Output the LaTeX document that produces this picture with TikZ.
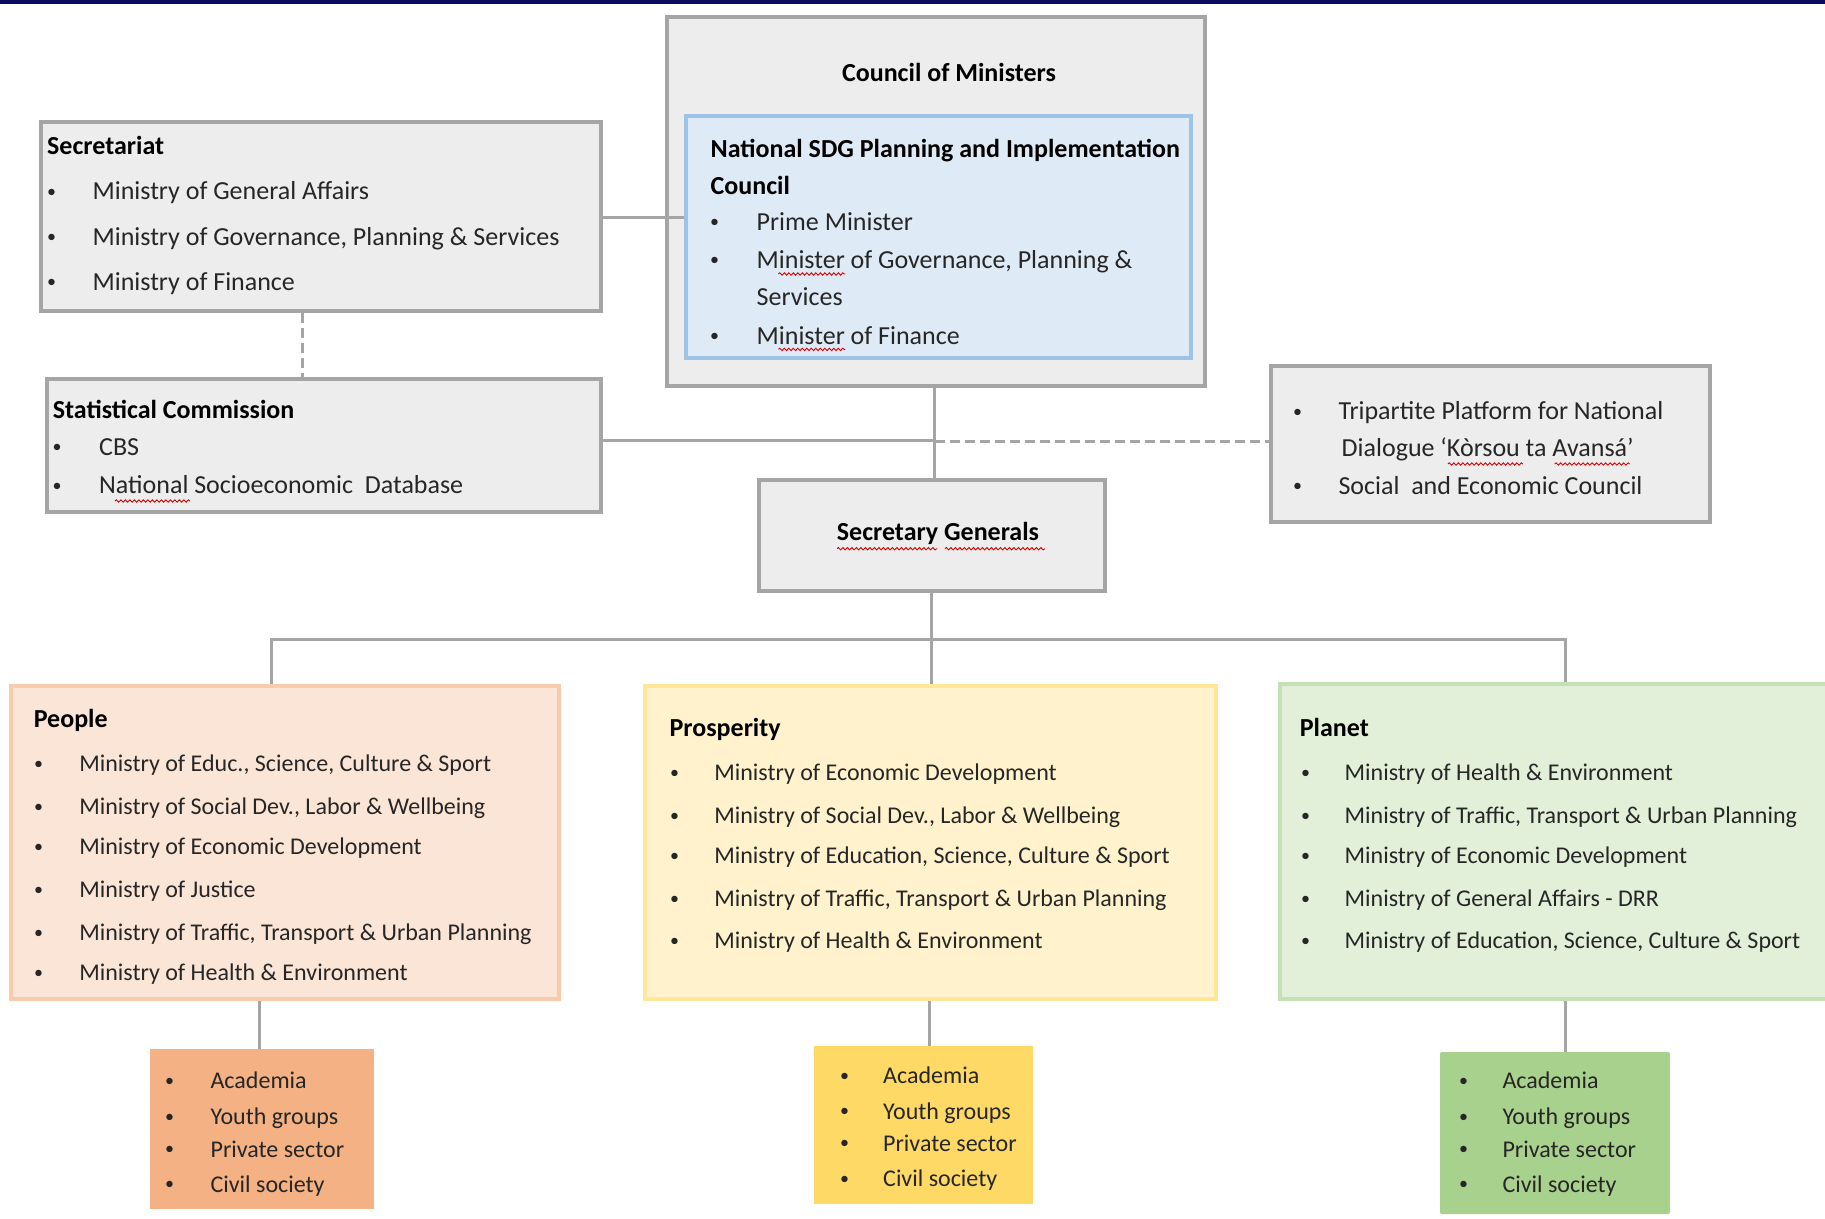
\documentclass[tikz,border=0pt]{standalone}
\usepackage{fontspec}
\setmainfont{Carlito}
\usetikzlibrary{fit,decorations.pathmorphing}
\definecolor{boxgray}{HTML}{EDEDED}
\definecolor{linegray}{HTML}{A5A5A5}
\definecolor{blfill}{HTML}{DEEBF7}
\definecolor{blline}{HTML}{9DC3E6}
\definecolor{pfill}{HTML}{FBE5D6}
\definecolor{pline}{HTML}{F8CBAD}
\definecolor{yfill}{HTML}{FFF2CC}
\definecolor{yline}{HTML}{FFE699}
\definecolor{gfill}{HTML}{E2F0D9}
\definecolor{gline}{HTML}{C5E0B4}
\definecolor{ofill}{HTML}{F4B183}
\definecolor{ydark}{HTML}{FFD966}
\definecolor{gdark}{HTML}{A9D18E}
\definecolor{navy}{HTML}{0B0B5E}
\definecolor{txtc}{HTML}{262626}
\newcommand\fsA{\fontsize{26}{31}\selectfont}
\newcommand\fsB{\fontsize{24}{29}\selectfont}
\newcommand\smbul{\raisebox{2.2pt}{\fontsize{18}{18}\selectfont •}}
\newcommand\bx[6]{\node[#2, fit={(#3,#4) (#5,#6)}] (#1) {};}
\newcommand\tln[4]{\node[ttl] (#1) at (#2,#3) {#4};}
\newcommand\bit[5]{\node[itm] (#1) at (#2,#4) {\makebox[\dimexpr #3pt-#2pt\relax][l]{\smbul}#5};}
\newcommand\bis[5]{\node[itms] (#1) at (#2,#4) {\makebox[\dimexpr #3pt-#2pt\relax][l]{\smbul}#5};}
\begin{document}
\begin{tikzpicture}[x=1pt,y=-1pt,
  gbox/.style={draw=linegray, fill=boxgray, line width=4pt, inner sep=0pt},
  bbox/.style={draw=blline, fill=blfill, line width=4pt, inner sep=0pt},
  pbox/.style={draw=pline, fill=pfill, line width=4pt, inner sep=0pt},
  ybox/.style={draw=yline, fill=yfill, line width=4pt, inner sep=0pt},
  grbox/.style={draw=gline, fill=gfill, line width=4pt, inner sep=0pt},
  sbox/.style={draw=none, inner sep=0pt},
  conn/.style={draw=linegray, line width=3pt},
  dconn/.style={conn, dash pattern=on 10pt off 5pt},
  ttl/.style={inner sep=0pt, anchor=base west, font=\fsA\bfseries, text=black},
  itm/.style={inner sep=0pt, anchor=base west, font=\fsA, text=txtc},
  itms/.style={inner sep=0pt, anchor=base west, font=\fsB, text=txtc},
  redwave/.style={draw=red!85!black, line width=0.9pt, decorate, decoration={snake, amplitude=1.2pt, segment length=4.5pt}}]
\useasboundingbox (0,0) rectangle (1825,1218);
\fill[white] (0,0) rectangle (1825,1218);
\fill[navy] (0,0) rectangle (1825,4);

% boxes
\bx{council}{gbox}{667}{17}{1205}{386}
\bx{nsdg}{bbox}{686}{116}{1191}{358}
\bx{sec}{gbox}{41}{122}{601}{311}
\bx{stat}{gbox}{47}{379}{601}{512}
\bx{tri}{gbox}{1271}{366}{1710}{522}
\bx{sg}{gbox}{759}{480}{1105}{591}
\bx{people}{pbox}{11}{686}{559}{999}
\bx{prosp}{ybox}{645}{686}{1216}{999}
\bx{planet}{grbox}{1280}{684}{1840}{999}
\bx{obox}{sbox,fill=ofill}{150}{1049}{374}{1209}
\bx{yb}{sbox,fill=ydark}{814}{1046}{1033}{1204}
\bx{gb}{sbox,fill=gdark,rounded corners=2pt}{1440}{1052}{1670}{1214}

% connectors
\coordinate (ysec) at (0,217.6);
\draw[conn] (sec.east |- ysec) -- (nsdg.west |- ysec);
\coordinate (dxs) at (302.7,0);
\draw[dconn] (sec.south -| dxs) -- (stat.north -| dxs);
\coordinate (sp) at (934.7,440);
\draw[conn] (council.south -| sp) -- (sg.north -| sp);
\draw[conn] (stat.east |- sp) -- (sp);
\coordinate (dsp) at (934.7,441);
\draw[dconn] (dsp) -- (tri.west |- dsp);
\coordinate (bus) at (931.2,639);
\draw[conn] (sg.south -| bus) -- (prosp.north -| bus);
\coordinate (pdrop) at (271.2,639);
\coordinate (gdrop) at (1565,639);
\draw[conn] (people.north -| pdrop) -- (pdrop) -- (gdrop) -- (planet.north -| gdrop);
\coordinate (pbx) at (259,0);
\draw[conn] (people.south -| pbx) -- (obox.north -| pbx);
\coordinate (ybx) at (929,0);
\draw[conn] (prosp.south -| ybx) -- (yb.north -| ybx);
\coordinate (gbx) at (1565,0);
\draw[conn] (planet.south -| gbx) -- (gb.north -| gbx);

% Council of Ministers
\node[ttl, anchor=base] (cmt) at (949,81) {Council of Ministers};
\tln{nst1}{710.5}{157}{National SDG Planning and Implementation}
\tln{nst2}{710.5}{194.6}{Council}
\bit{ns1}{710}{756.5}{230}{Prime Minister}
\bit{ns2}{710}{756.5}{268}{Minister of Governance, Planning \&}
\node[itm] (ns3) at (756.5,305) {Services};
\bit{ns4}{710}{756.5}{344}{Minister of Finance}

% Secretariat
\tln{sect}{47}{154}{Secretariat}
\bit{sec1}{47}{92.4}{199.3}{Ministry of General Affairs}
\bit{sec2}{47}{92.4}{245}{Ministry of Governance, Planning \& Services}
\bit{sec3}{47}{92.4}{290}{Ministry of Finance}

% Statistical Commission
\tln{statt}{52.7}{418.3}{Statistical Commission}
\bit{st1}{52.5}{99}{455}{CBS}
\bit{st2}{52.5}{99}{493.3}{National Socioeconomic\ \ Database}

% Tripartite
\bit{tr1}{1293}{1338.3}{419.3}{Tripartite Platform for National}
\node[itm] (tr2) at (1341.5,456.7) {Dialogue ‘Kòrsou ta Avansá’};
\bit{tr3}{1293}{1338.3}{494}{Social\ \ and Economic Council}

% Secretary Generals
\node[ttl, anchor=base] (sgt) at (938,540) {Secretary Generals};

% People
\tln{peot}{33.6}{727.9}{People}
\bis{pe1}{34}{79.1}{771.4}{Ministry of Educ., Science, Culture \& Sport}
\bis{pe2}{34}{79.1}{814.3}{Ministry of Social Dev., Labor \& Wellbeing}
\bis{pe3}{34}{79.1}{854.6}{Ministry of Economic Development}
\bis{pe4}{34}{79.1}{897.5}{Ministry of Justice}
\bis{pe5}{34}{79.1}{940.4}{Ministry of Traffic, Transport \& Urban Planning}
\bis{pe6}{34}{79.1}{980.7}{Ministry of Health \& Environment}

% Prosperity
\tln{prt}{669.4}{736.8}{Prosperity}
\bis{pr1}{670}{714.1}{780.7}{Ministry of Economic Development}
\bis{pr2}{670}{714.1}{823.6}{Ministry of Social Dev., Labor \& Wellbeing}
\bis{pr3}{670}{714.1}{863.6}{Ministry of Education, Science, Culture \& Sport}
\bis{pr4}{670}{714.1}{906.4}{Ministry of Traffic, Transport \& Urban Planning}
\bis{pr5}{670}{714.1}{948.6}{Ministry of Health \& Environment}

% Planet
\tln{plt}{1299.7}{736.8}{Planet}
\bis{pl1}{1301}{1344.5}{780.7}{Ministry of Health \& Environment}
\bis{pl2}{1301}{1344.5}{823.6}{Ministry of Traffic, Transport \& Urban Planning}
\bis{pl3}{1301}{1344.5}{863.6}{Ministry of Economic Development}
\bis{pl4}{1301}{1344.5}{906.4}{Ministry of General Affairs - DRR}
\bis{pl5}{1301}{1344.5}{948.6}{Ministry of Education, Science, Culture \& Sport}

% stakeholder boxes
\bis{ob1}{165}{210.4}{1088.6}{Academia}
\bis{ob2}{165}{210.4}{1124.3}{Youth groups}
\bis{ob3}{165}{210.4}{1157}{Private sector}
\bis{ob4}{165}{210.4}{1192}{Civil society}
\bis{yb1}{840}{883}{1083.2}{Academia}
\bis{yb2}{840}{883}{1119}{Youth groups}
\bis{yb3}{840}{883}{1151}{Private sector}
\bis{yb4}{840}{883}{1186.8}{Civil society}
\bis{gb1}{1459}{1502.3}{1088.6}{Academia}
\bis{gb2}{1459}{1502.3}{1124.3}{Youth groups}
\bis{gb3}{1459}{1502.3}{1157}{Private sector}
\bis{gb4}{1459}{1502.3}{1192}{Civil society}

% spell-check squiggles
\draw[redwave] (115,501) -- (190,501);
\draw[redwave] (778.4,274) -- (845.4,274);
\draw[redwave] (778.4,349.4) -- (845.4,349.4);
\draw[redwave] (837,548.7) -- (937.4,548.7);
\draw[redwave] (945,548.7) -- (1044.6,548.7);
\draw[redwave] (1447.9,464) -- (1522.8,464);
\draw[redwave] (1554.7,464) -- (1629.6,464);
\end{tikzpicture}
\end{document}
